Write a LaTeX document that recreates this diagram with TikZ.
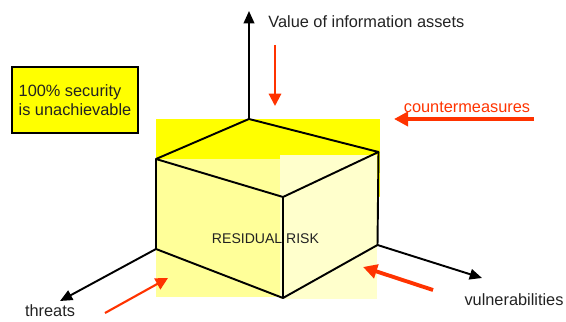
\documentclass[tikz,border=0pt]{standalone}
\usepackage{fontspec}
\setmainfont{Liberation Sans}
\usetikzlibrary{positioning, arrows.meta}
\usepackage{xcolor}
\definecolor{rkyellow}{HTML}{FFFF00}
\definecolor{rkpale}{HTML}{FFFF99}
\definecolor{rklight}{HTML}{FFFFCC}
\definecolor{rkred}{HTML}{FF3300}
\definecolor{rktext}{HTML}{222222}

\begin{document}
\begin{tikzpicture}[
    axis/.style={line width=1.1pt, -{Triangle[length=7pt, width=6pt]}},
    edge/.style={line width=1.1pt, line join=round},
    force/.style={rkred, line width=1.2pt, -{Triangle[length=7pt, width=7pt]}},
    bigforce/.style={rkred, line width=2.2pt, -{Triangle[length=8pt, width=8pt]}},
    lbl/.style={text=rktext, font=\fontsize{9.3}{11}\selectfont, inner sep=0pt}]
        \useasboundingbox (0,0) rectangle (11.32,6.44);
        % cube corners
        \coordinate (t)  at (4.98,4.06);
        \coordinate (tl) at (3.12,3.26);
        \coordinate (tr) at (7.57,3.40);
        \coordinate (f)  at (5.66,2.50);
        \coordinate (bl) at (3.12,1.46);
        \coordinate (b)  at (5.66,0.48);
        \coordinate (br) at (7.55,1.54);
        % shading
        \fill[rkyellow] (3.12,4.06) rectangle (7.60,2.50);
        \fill[rkpale] (3.12,3.26) rectangle (5.60,0.50);
        \fill[rklight] (5.60,3.34) rectangle (7.54,0.46);
        \draw[edge] (tl) -- (t) -- (tr) -- (f) -- cycle;
        \draw[edge] (tl) -- (bl) -- (b) -- (br) -- (tr);
        \draw[edge] (f) -- (b);
        \node[lbl, font=\fontsize{8}{10}\selectfont] (rr) at (5.31,1.66) {RESIDUAL RISK};
        % axes
        \coordinate (vtip) at (4.98,6.22);
        \coordinate (ttip) at (1.20,0.42);
        \coordinate (utip) at (9.64,0.88);
        \draw[axis] (t) -- (vtip);
        \draw[axis] (bl) -- (ttip);
        \draw[axis] (br) -- (utip);
        \node[lbl, anchor=west] (value) at (5.36,6.00) {Value of information assets};
        \node[lbl] (threats) at (1.00,0.22) {threats};
        \node[lbl] (vuln) at (10.28,0.44) {vulnerabilities};
        \node[lbl, text=rkred] (cm) at (9.34,4.30) {countermeasures};
        % pressures on the cube
        \coordinate (v1) at (5.50,5.54);
        \coordinate (v2) at (5.50,4.32);
        \coordinate (c1) at (10.68,4.06);
        \coordinate (c2) at (7.88,4.06);
        \coordinate (h1) at (2.10,0.18);
        \coordinate (h2) at (3.36,0.88);
        \coordinate (u1) at (8.66,0.64);
        \coordinate (u2) at (7.26,1.10);
        \draw[force] (v1) -- (v2);
        \draw[bigforce] (c1) -- (c2);
        \draw[force] (h1) -- (h2);
        \draw[bigforce] (u1) -- (u2);
        \node[draw, line width=1.5pt, fill=rkyellow, lbl, align=left,
              minimum width=2.52cm, minimum height=1.32cm] (note) at (1.50,4.44)
              {100\% security\\is unachievable};
      \end{tikzpicture}
\end{document}
